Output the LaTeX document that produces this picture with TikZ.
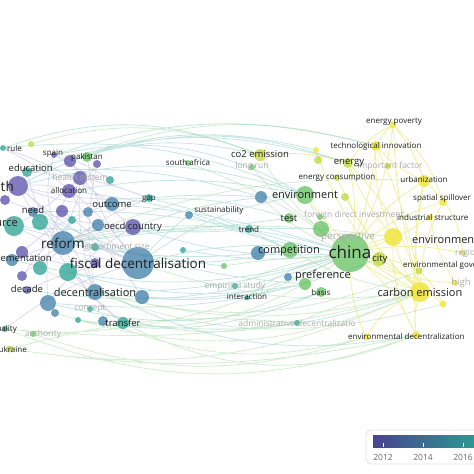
\documentclass[tikz,border=0pt]{standalone}
\usepackage{fontspec}
\setmainfont{Open Sans}
\usetikzlibrary{backgrounds}
\definecolor{yr_a}{RGB}{88,78,170}
\definecolor{yr_b}{RGB}{60,125,168}
\definecolor{yr_c}{RGB}{40,162,145}
\definecolor{yr_d}{RGB}{100,192,95}
\definecolor{yr_e}{RGB}{190,216,50}
\definecolor{yr_f}{RGB}{236,226,35}
\definecolor{lbl_dark}{RGB}{30,30,30}
\definecolor{lbl_pale}{RGB}{170,170,170}
\tikzset{
    kw/.style={circle, inner sep=0pt, draw=none, fill opacity=0.75},
    kw_a/.style={kw, fill=yr_a},
    kw_b/.style={kw, fill=yr_b},
    kw_c/.style={kw, fill=yr_c},
    kw_d/.style={kw, fill=yr_d},
    kw_e/.style={kw, fill=yr_e},
    kw_f/.style={kw, fill=yr_f},
    lbl/.style={inner sep=0pt, text=lbl_dark},
    lbl_s/.style={lbl, font=\fontsize{8}{9}\selectfont},
    lbl_m/.style={lbl, font=\fontsize{9.5}{10}\selectfont},
    lbl_l/.style={lbl, font=\fontsize{11}{12}\selectfont},
    lbl_xl/.style={lbl, font=\fontsize{13.5}{14}\selectfont},
    lbl_xxl/.style={lbl, font=\fontsize{17}{18}\selectfont},
    lbl_pale/.style={inner sep=0pt, text=lbl_pale, font=\fontsize{8.5}{9}\selectfont},
    edge_blue/.style={draw=yr_a!60, line width=0.8pt, draw opacity=0.35},
    edge_teal/.style={draw=yr_c!70, line width=0.8pt, draw opacity=0.38},
    edge_green/.style={draw=yr_d!75, line width=0.8pt, draw opacity=0.38},
    edge_yellow/.style={draw=yr_f!95!black, line width=0.8pt, draw opacity=0.42},
    tick_lbl/.style={inner sep=0pt, text=black!60, font=\fontsize{8.5}{9}\selectfont}
}

\begin{document}
\begin{tikzpicture}[x=1pt, y=-1pt]
    \useasboundingbox (0,0) rectangle (474,474);

    % Left cluster
    \node[kw_c, minimum size=6] (rule) at (3,148) {};
    \node[kw_e, minimum size=6] (rule_b) at (31,144) {};
    \node[kw_a, minimum size=6] (spain) at (54,155) {};
    \node[kw_a, minimum size=12] (pk_a) at (70,161) {};
    \node[kw_d, minimum size=10] (pakistan) at (87,157) {};
    \node[kw_a, minimum size=8] (pk_b) at (97,164) {};
    \node[kw_c, minimum size=10] (education) at (27,172) {};
    \node[kw_a, minimum size=20] (health) at (18,186) {};
    \node[kw_a, minimum size=14] (health_sys) at (80,178) {};
    \node[kw_a, minimum size=14] (allocation) at (69,191) {};
    \node[kw_c, minimum size=8] (al_b) at (110,180) {};
    \node[kw_b, minimum size=14] (outcome) at (112,204) {};
    \node[kw_c, minimum size=8] (gap) at (149,198) {};
    \node[kw_b, minimum size=10] (need) at (33,212) {};
    \node[kw_a, minimum size=12] (nd_b) at (62,211) {};
    \node[kw_a, minimum size=10] (nd_c) at (5,200) {};
    \node[kw_c, minimum size=20] (resource) at (14,226) {};
    \node[kw_c, minimum size=16] (rs_b) at (40,222) {};
    \node[kw_a, minimum size=16] (oecd) at (133,227) {};
    \node[kw_b, minimum size=12] (oe_b) at (98,225) {};
    \node[kw_c, minimum size=8] (oe_c) at (72,220) {};
    \node[kw_b, minimum size=10] (oe_d) at (88,212) {};
    \node[kw_b, minimum size=24] (reform) at (63,243) {};
    \node[kw_c, minimum size=8] (gov_size) at (95,247) {};
    \node[kw_a, minimum size=12] (im_b) at (22,252) {};
    \node[kw_b, minimum size=12] (implementation) at (12,260) {};
    \node[kw_b, minimum size=32] (fiscal) at (138,263) {};
    \node[kw_c, minimum size=18] (fd_b) at (68,272) {};
    \node[kw_a, minimum size=10] (fd_c) at (95,263) {};
    \node[kw_c, minimum size=14] (fd_d) at (40,268) {};
    \node[kw_a, minimum size=10] (dc_b) at (22,276) {};
    \node[kw_a, minimum size=8] (decade) at (27,290) {};
    \node[kw_b, minimum size=16] (decentral) at (95,292) {};
    \node[kw_b, minimum size=14] (dc_c) at (142,297) {};
    \node[kw_b, minimum size=16] (dc_d) at (48,303) {};
    \node[kw_b, minimum size=8] (dc_e) at (55,313) {};
    \node[kw_c, minimum size=6] (concept) at (90,309) {};
    \node[kw_b, minimum size=10] (tr_b) at (103,321) {};
    \node[kw_c, minimum size=6] (tr_c) at (78,320) {};
    \node[kw_c, minimum size=12] (transfer) at (123,323) {};
    \node[kw_c, minimum size=6] (quality) at (5,329) {};
    \node[kw_d, minimum size=6] (authority) at (33,334) {};
    \node[kw_e, minimum size=7] (ukraine) at (10,349) {};

    % Middle
    \node[kw_d, minimum size=6] (south_africa) at (188,163) {};
    \node[kw_b, minimum size=8] (sustain) at (189,215) {};
    \node[kw_c, minimum size=6] (md_a) at (183,250) {};
    \node[kw_d, minimum size=6] (md_b) at (224,266) {};
    \node[kw_e, minimum size=12] (co2) at (260,155) {};
    \node[kw_d, minimum size=6] (long_run) at (252,167) {};
    \node[kw_b, minimum size=12] (attitude) at (261,197) {};
    \node[kw_d, minimum size=18] (environment) at (305,195) {};
    \node[kw_d, minimum size=10] (test) at (289,218) {};
    \node[kw_c, minimum size=8] (trend) at (249,229) {};
    \node[kw_b, minimum size=14] (comp_b) at (258,253) {};
    \node[kw_d, minimum size=16] (competition) at (290,250) {};
    \node[kw_c, minimum size=6] (emp_study) at (235,286) {};
    \node[kw_c, minimum size=5] (interaction) at (247,298) {};
    \node[kw_c, minimum size=6] (admin) at (297,323) {};
    \node[kw_d, minimum size=16] (perspective) at (321,229) {};
    \node[kw_d, minimum size=38] (china) at (350,253) {};
    \node[kw_b, minimum size=8] (pref_b) at (288,277) {};
    \node[kw_d, minimum size=12] (preference) at (305,284) {};
    \node[kw_d, minimum size=10] (basis) at (321,292) {};
    \node[kw_e, minimum size=14] (city) at (379,259) {};
    \node[kw_d, minimum size=6] (fdi) at (320,217) {};

    % Right cluster
    \node[kw_f, minimum size=6] (te_b) at (316,150) {};
    \node[kw_e, minimum size=8] (te_c) at (318,160) {};
    \node[kw_f, minimum size=7] (poverty) at (393,125) {};
    \node[kw_f, minimum size=10] (tech) at (376,146) {};
    \node[kw_e, minimum size=10] (energy) at (348,163) {};
    \node[kw_e, minimum size=6] (en_cons) at (337,178) {};
    \node[kw_e, minimum size=6] (imp_factor) at (388,166) {};
    \node[kw_e, minimum size=8] (en_b) at (345,197) {};
    \node[kw_f, minimum size=12] (urban) at (424,181) {};
    \node[kw_f, minimum size=8] (spatial) at (443,202) {};
    \node[kw_f, minimum size=6] (industrial) at (430,217) {};
    \node[kw_f, minimum size=18] (env_reg) at (393,237) {};
    \node[kw_f, minimum size=6] (region) at (463,253) {};
    \node[kw_e, minimum size=7] (env_gov) at (419,271) {};
    \node[kw_f, minimum size=6] (high) at (455,283) {};
    \node[kw_f, minimum size=20] (carbon) at (420,292) {};
    \node[kw_f, minimum size=7] (w_region) at (443,304) {};
    \node[kw_f, minimum size=7] (ed_b) at (366,337) {};
    \node[kw_f, minimum size=8] (env_dec) at (416,335) {};

    % Links
    \begin{scope}[on background layer]
    \draw[edge_blue] (health) to[bend right=10] (reform) (health) to[bend left=10] (allocation)
        (health) to[bend right=8] (fiscal) (education) to[bend right=12] (reform)
        (allocation) to[bend right=10] (fiscal) (need) to[bend right=6] (fiscal)
        (resource) to[bend right=10] (fiscal) (reform) to[bend left=8] (fiscal)
        (oecd) to[bend right=10] (reform) (outcome) to[bend left=10] (health)
        (pakistan) to[bend right=15] (fiscal) (spain) to[bend right=20] (reform)
        (rule) to[bend left=12] (fiscal) (decentral) to[bend right=12] (health)
        (decade) to[bend left=10] (fiscal) (transfer) to[bend left=15] (reform)
        (gap) to[bend left=8] (health) (dc_d) to[bend left=10] (oecd)
        (implementation) to[bend left=6] (oecd) (health_sys) to[bend right=10] (decentral)
        (pk_a) to[bend right=8] (oecd) (nd_b) to[bend left=10] (dc_c)
        (im_b) to[bend left=12] (outcome) (quality) to[bend left=10] (fiscal)
        (spain) to[bend right=6] (gap) (rule) to[bend left=8] (outcome)
        (nd_c) to[bend right=8] (oecd) (fd_d) to[bend left=10] (gap)
        (oe_d) to[bend right=10] (dc_b) (pk_b) to[bend right=10] (decentral)
        (health_sys) to[bend left=6] (resource) (allocation) to[bend right=14] (dc_d)
        (education) to[bend left=8] (gap) (rs_b) to[bend right=10] (transfer)
        (im_b) to[bend right=12] (fiscal) (dc_b) to[bend left=8] (oe_b)
        (spain) to[bend left=10] (al_b) (pk_b) to[bend right=8] (reform);
    \draw[edge_teal] (fiscal) to[bend left=10] (china) (reform) to[bend left=14] (china)
        (decentral) to[bend right=8] (china) (fiscal) to[bend left=12] (environment)
        (fiscal) to[bend right=6] (competition) (outcome) to[bend left=6] (china)
        (oecd) to[bend right=10] (china) (gap) to[bend left=6] (competition)
        (sustain) to[bend right=6] (china) (trend) to[bend right=5] (china)
        (decentral) to[bend right=10] (preference) (health) to[bend left=20] (co2)
        (rule) to[bend left=14] (environment) (education) to[bend left=10] (attitude)
        (spain) to[bend left=16] (tech) (pk_a) to[bend left=18] (energy)
        (transfer) to[bend right=12] (carbon) (dc_c) to[bend right=14] (china)
        (fd_b) to[bend right=20] (env_dec) (dc_d) to[bend right=16] (basis)
        (resource) to[bend right=6] (test) (md_a) to[bend right=8] (china)
        (health) to[bend left=16] (environment) (allocation) to[bend left=8] (competition)
        (need) to[bend right=10] (preference) (implementation) to[bend right=14] (china)
        (rule) to[bend left=20] (co2) (spain) to[bend left=20] (environment)
        (education) to[bend left=18] (energy) (health) to[bend left=20] (te_b)
        (outcome) to[bend left=12] (test) (oecd) to[bend right=6] (trend)
        (reform) to[bend right=8] (competition) (fd_b) to[bend right=12] (preference)
        (decade) to[bend right=14] (china) (dc_d) to[bend right=12] (city)
        (tr_c) to[bend right=16] (basis) (gap) to[bend left=4] (attitude)
        (fiscal) to[bend left=4] (sustain) (oecd) to[bend left=8] (environment)
        (need) to[bend left=6] (trend) (allocation) to[bend left=10] (environment)
        (resource) to[bend right=4] (md_b) (reform) to[bend left=4] (perspective);
    \draw[edge_green] (ukraine) to[bend right=10] (env_dec) (quality) to[bend right=10] (carbon)
        (authority) to[bend right=12] (china) (fiscal) to[bend right=12] (carbon)
        (reform) to[bend left=8] (env_reg) (south_africa) to[bend left=8] (china)
        (co2) to[bend right=10] (china) (admin) to[bend left=10] (carbon)
        (interaction) to[bend left=12] (china) (emp_study) to[bend left=8] (china)
        (environment) to[bend right=8] (china) (competition) to[bend right=10] (carbon)
        (long_run) to[bend right=8] (perspective) (attitude) to[bend right=10] (china)
        (md_b) to[bend left=6] (city) (admin) to[bend right=10] (ukraine)
        (tr_b) to[bend right=18] (ed_b) (decentral) to[bend right=14] (carbon)
        (reform) to[bend left=12] (urban) (ukraine) to[bend right=16] (carbon)
        (quality) to[bend right=20] (env_dec) (authority) to[bend right=18] (ed_b)
        (dc_e) to[bend right=20] (carbon) (tr_c) to[bend right=22] (china)
        (transfer) to[bend right=24] (env_dec) (decentral) to[bend right=18] (env_gov)
        (pk_a) to[bend left=18] (tech) (rule_b) to[bend left=18] (co2)
        (fd_d) to[bend right=20] (w_region) (concept) to[bend right=14] (admin);
    \draw[edge_yellow] (china) to[bend right=8] (carbon) (china) to[bend left=6] (env_reg)
        (china) to[bend right=10] (energy) (china) to[bend left=10] (urban)
        (china) to[bend right=6] (tech) (poverty) to[bend right=10] (tech)
        (poverty) to[bend right=12] (energy) (poverty) to[bend left=10] (urban)
        (poverty) to[bend left=10] (china) (energy) to[bend left=14] (carbon)
        (urban) to[bend right=10] (carbon) (env_reg) to[bend right=10] (carbon)
        (spatial) to[bend right=10] (china) (industrial) to[bend left=8] (china)
        (env_dec) to[bend right=12] (china) (env_dec) to[bend left=10] (carbon)
        (co2) to[bend left=10] (energy) (environment) to[bend right=12] (carbon)
        (city) to[bend left=10] (carbon) (env_gov) to[bend right=8] (china)
        (high) to[bend left=10] (china) (region) to[bend right=10] (china)
        (poverty) to[bend left=14] (spatial) (tech) to[bend right=12] (env_reg)
        (w_region) to[bend right=10] (china) (ed_b) to[bend left=10] (china)
        (te_b) to[bend right=10] (city) (urban) to[bend right=6] (env_dec)
        (poverty) to[bend right=6] (carbon) (tech) to[bend left=8] (carbon)
        (energy) to[bend right=8] (env_reg) (en_cons) to[bend right=10] (carbon)
        (urban) to[bend left=20] (region) (spatial) to[bend right=12] (carbon)
        (industrial) to[bend right=10] (high) (env_reg) to[bend right=14] (env_dec)
        (carbon) to[bend right=16] (ed_b) (env_gov) to[bend left=10] (w_region)
        (tech) to[bend right=10] (urban) (en_b) to[bend right=8] (carbon);
    \end{scope}

    % Labels, left cluster
    \node[lbl_s, anchor=west] (rule_lbl) at (7,148) {rule};
    \node[lbl_s] (spain_lbl) at (53,154) {spain};
    \node[lbl_s] (pakistan_lbl) at (87,157) {pakistan};
    \node[lbl_m, anchor=east] (education_lbl) at (53,168) {education};
    \node[lbl_xl, anchor=east] (health_lbl) at (14,186) {health};
    \node[lbl_pale] (health_sys_lbl) at (80,178) {health system};
    \node[lbl_s] (allocation_lbl) at (69,190) {allocation};
    \node[lbl_m] (outcome_lbl) at (112,204) {outcome};
    \node[lbl_s] (gap_lbl) at (149,199) {gap};
    \node[lbl_m] (need_lbl) at (33,210) {need};
    \node[lbl_l, anchor=east] (resource_lbl) at (18,224) {resource};
    \node[lbl_m] (oecd_lbl) at (133,227) {oecd country};
    \node[lbl_pale] (gov_size_lbl) at (117,247) {government size};
    \node[lbl_xl] (reform_lbl) at (63,243) {reform};
    \node[lbl_m, anchor=east] (impl_lbl) at (52,259) {implementation};
    \node[lbl_xl] (fiscal_lbl) at (138,263) {fiscal decentralisation};
    \node[lbl_m] (decade_lbl) at (27,289) {decade};
    \node[lbl_l] (decentral_lbl) at (95,292) {decentralisation};
    \node[lbl_pale] (concept_lbl) at (90,309) {concept};
    \node[lbl_m] (transfer_lbl) at (123,323) {transfer};
    \node[lbl_s, anchor=east] (quality_lbl) at (17,329) {quality};
    \node[lbl_pale] (authority_lbl) at (43,334) {authority};
    \node[lbl_s, anchor=east] (ukraine_lbl) at (27,349) {ukraine};

    % Labels, middle
    \node[lbl_s] (south_africa_lbl) at (188,162) {south africa};
    \node[lbl_pale] (long_run_lbl) at (252,166) {long run};
    \node[lbl_m] (co2_lbl) at (260,154) {co2 emission};
    \node[lbl_s] (sustain_lbl) at (219,210) {sustainability};
    \node[lbl_l] (environment_lbl) at (305,195) {environment};
    \node[lbl_m] (test_lbl) at (289,218) {test};
    \node[lbl_s] (trend_lbl) at (249,229) {trend};
    \node[lbl_pale, anchor=west] (fdi_lbl) at (304,215) {foreign direct investment};
    \node[lbl_pale, font=\fontsize{10}{11}\selectfont] (perspective_lbl) at (348,237) {perspective};
    \node[lbl_l] (competition_lbl) at (289,251) {competition};
    \node[lbl_xxl] (china_lbl) at (350,252) {china};
    \node[lbl_m] (city_lbl) at (380,259) {city};
    \node[lbl_l] (preference_lbl) at (323,276) {preference};
    \node[lbl_s] (basis_lbl) at (321,292) {basis};
    \node[lbl_pale] (emp_lbl) at (235,286) {empirical study};
    \node[lbl_s] (interaction_lbl) at (247,297) {interaction};
    \node[lbl_pale] (admin_lbl) at (297,323) {administrative decentralizatio};

    % Labels, right cluster
    \node[lbl_s] (poverty_lbl) at (394,122) {energy poverty};
    \node[lbl_s] (tech_lbl) at (376,146) {technological innovation};
    \node[lbl_pale] (imp_factor_lbl) at (390,166) {important factor};
    \node[lbl_m] (energy_lbl) at (349,163) {energy};
    \node[lbl_s] (en_cons_lbl) at (337,178) {energy consumption};
    \node[lbl_s] (urban_lbl) at (424,179) {urbanization};
    \node[lbl_s, anchor=west] (spatial_lbl) at (413,198) {spatial spillover};
    \node[lbl_s, anchor=west] (industrial_lbl) at (397,217) {industrial structure};
    \node[lbl_l, anchor=west] (env_reg_lbl) at (412,241) {environmental regulation};
    \node[lbl_pale, anchor=west] (region_lbl) at (455,253) {region};
    \node[lbl_s, anchor=west] (env_gov_lbl) at (403,265) {environmental governance};
    \node[lbl_pale, font=\fontsize{9.5}{10}\selectfont] (high_lbl) at (461,283) {high};
    \node[lbl_l] (carbon_lbl) at (420,292) {carbon emission};
    \node[lbl_s, anchor=west] (env_dec_lbl) at (348,336) {environmental decentralization};

    % Legend
    \draw[draw=black!12, line width=0.8pt, rounded corners=5pt] (366,430) rectangle (500,464);
    \shade[left color=yr_a!85!black, middle color=yr_b!90!black, right color=yr_c] (373,435) rectangle (486,447);
    \draw[white, line width=0.5pt] (383,443) -- (383,447) (423,443) -- (423,447) (463,443) -- (463,447);
    \node[tick_lbl] (tick_2012) at (383,457) {2012};
    \node[tick_lbl] (tick_2014) at (423,457) {2014};
    \node[tick_lbl] (tick_2016) at (463,457) {2016};
\end{tikzpicture}
\end{document}
